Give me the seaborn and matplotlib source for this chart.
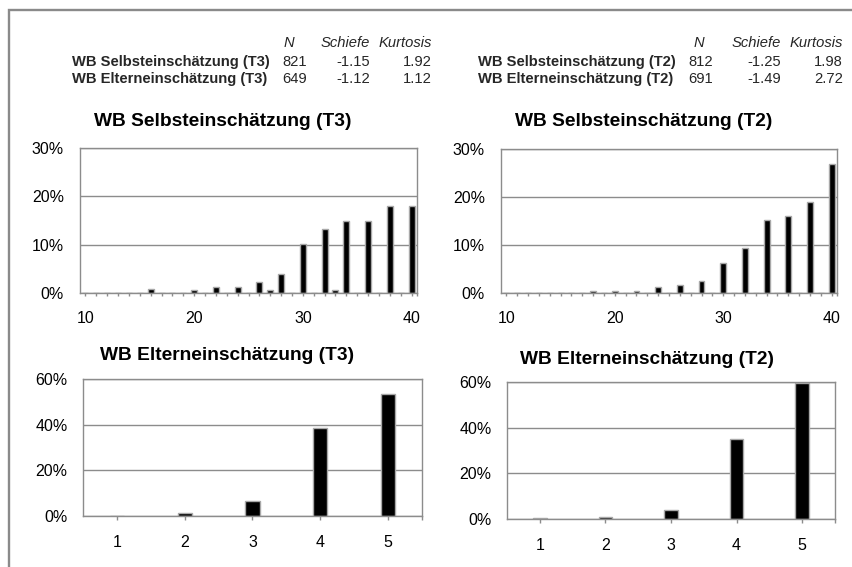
import matplotlib
matplotlib.use("Agg")
import matplotlib.pyplot as plt
from matplotlib.ticker import PercentFormatter, FixedLocator
from matplotlib.patches import Rectangle
import seaborn as sns

# ---- data -------------------------------------------------------------
selbst_scores = list(range(10, 41))
selbst_t3 = [0, 0, 0, 0, 0.1, 0, 0.9, 0, 0.1, 0,
             0.7, 0, 1.2, 0, 1.2, 0, 2.2, 0.6, 3.9, 0,
             10.2, 0, 13.3, 0.7, 14.8, 0.1, 15.0, 0.1, 18.1, 0,
             18.1]
selbst_t2 = [0, 0, 0, 0, 0, 0, 0.1, 0, 0.5, 0,
             0.4, 0, 0.4, 0, 1.3, 0, 1.7, 0.1, 2.4, 0,
             6.3, 0, 9.4, 0.1, 15.3, 0.1, 16.1, 0.1, 19.0, 0,
             26.8]

eltern_scores = [1, 2, 3, 4, 5]
eltern_t3 = [0.1, 1.4, 6.6, 38.5, 53.4]
eltern_t2 = [0.5, 1.0, 3.9, 35.0, 59.4]

selbst_ticks = [10, 20, 30, 40]
selbst_yticks = [0, 10, 20, 30]
eltern_yticks = [0, 20, 40, 60]

table_header = ["N", "Schiefe", "Kurtosis"]
rows_t3 = ["WB Selbsteinschätzung (T3)", "WB Elterneinschätzung (T3)"]
n_t3 = [821, 649]
schiefe_t3 = [-1.15, -1.12]
kurtosis_t3 = [1.92, 1.12]
rows_t2 = ["WB Selbsteinschätzung (T2)", "WB Elterneinschätzung (T2)"]
n_t2 = [812, 691]
schiefe_t2 = [-1.25, -1.49]
kurtosis_t2 = [1.98, 2.72]

titles = ["WB Selbsteinschätzung (T3)", "WB Selbsteinschätzung (T2)",
          "WB Elterneinschätzung (T3)", "WB Elterneinschätzung (T2)"]

# ---- style ------------------------------------------------------------
sns.set_theme(style="white")
plt.rcParams["font.family"] = ["Liberation Sans", "DejaVu Sans"]

W, H = 853, 567
GRID = "#8c8c8c"
EDGE = "#a8a8a8"
FRAME = "#8a8a8a"
TICK_FS = 11.5

fig = plt.figure(figsize=(W / 100, H / 100), dpi=100)
fig.patch.set_facecolor("white")


def px_axes(left, top, right, bottom):
    return fig.add_axes([left / W, 1 - bottom / H, (right - left) / W, (bottom - top) / H])


def style_axes(ax, ylim, yticks, ypad, xpad, ticklen):
    ax.set_ylim(*ylim)
    ax.set_yticks(yticks)
    ax.yaxis.set_major_formatter(PercentFormatter(decimals=0))
    ax.yaxis.grid(True, color=GRID, lw=1)
    ax.xaxis.grid(False)
    ax.set_axisbelow(True)
    for sp in ax.spines.values():
        sp.set_visible(True)
        sp.set_color(GRID)
        sp.set_linewidth(1)
    ax.tick_params(axis="y", length=0, pad=ypad, labelsize=TICK_FS, colors="black")
    ax.tick_params(axis="x", which="both", length=ticklen, width=1, color=GRID,
                   direction="out", bottom=True, pad=xpad, labelsize=TICK_FS,
                   labelcolor="black")
    ax.set_xlabel("")
    ax.set_ylabel("")


def selbst_panel(box, values):
    ax = px_axes(*box)
    sns.barplot(x=selbst_scores, y=values, native_scale=True, width=0.55,
                color="black", saturation=1, edgecolor=EDGE, linewidth=1,
                errorbar=None, ax=ax)
    ax.set_xlim(9.5, 40.5)
    ax.set_xticks(selbst_ticks)
    ax.set_xticklabels([str(t) for t in selbst_ticks])
    ax.xaxis.set_minor_locator(FixedLocator(selbst_scores + [40.5]))
    style_axes(ax, (0, 30), selbst_yticks, ypad=11.5, xpad=10.5, ticklen=2.2)
    return ax


def eltern_panel(box, values):
    ax = px_axes(*box)
    sns.barplot(x=eltern_scores, y=values, native_scale=True, width=0.21,
                color="black", saturation=1, edgecolor=EDGE, linewidth=1,
                errorbar=None, ax=ax)
    ax.set_xlim(0.5, 5.5)
    ax.set_xticks(eltern_scores)
    ax.set_xticklabels([str(t) for t in eltern_scores])
    ax.xaxis.set_minor_locator(FixedLocator([5.5]))
    style_axes(ax, (0, 60), eltern_yticks, ypad=11, xpad=11, ticklen=3)
    return ax


selbst_panel((80, 148, 417, 293), selbst_t3)
selbst_panel((501, 149, 837, 293), selbst_t2)
eltern_panel((83, 379, 422, 516), eltern_t3)
eltern_panel((507, 382, 835, 519), eltern_t2)

# ---- panel titles -------------------------------------------------------
title_pos = [(223, 122), (644, 122), (227, 355), (647, 360)]
for t, (x, y) in zip(titles, title_pos):
    fig.text(x / W, 1 - y / H, t, ha="center", va="center",
             fontsize=13.8, fontweight="bold", color="black")


# ---- summary tables -------------------------------------------------------
def stats_table(label_x, n_x, sk_x, ku_x, n_head_x, rows, ns, sks, kus):
    y_head, y_rows = 43, [62, 79]
    fs = 10.6
    fig.text(n_head_x / W, 1 - y_head / H, table_header[0], ha="center", va="center",
             fontsize=fs, style="italic")
    fig.text(sk_x / W, 1 - y_head / H, table_header[1], ha="right", va="center",
             fontsize=fs, style="italic")
    fig.text(ku_x / W, 1 - y_head / H, table_header[2], ha="right", va="center",
             fontsize=fs, style="italic")
    for row, n, sk, ku, y in zip(rows, ns, sks, kus, y_rows):
        fy = 1 - y / H
        fig.text(label_x / W, fy, row, ha="left", va="center", fontsize=fs, fontweight="bold")
        fig.text(n_x / W, fy, f"{n}", ha="right", va="center", fontsize=fs)
        fig.text(sk_x / W, fy, f"{sk:.2f}", ha="right", va="center", fontsize=fs)
        fig.text(ku_x / W, fy, f"{ku:.2f}", ha="right", va="center", fontsize=fs)


stats_table(72, 307, 370, 432, 289, rows_t3, n_t3, schiefe_t3, kurtosis_t3)
stats_table(478, 713, 781, 843, 699, rows_t2, n_t2, schiefe_t2, kurtosis_t2)

# ---- outer frame (top and left edges) --------------------------------------
fig.add_artist(Rectangle((9 / W, -0.1), 1.2, (1 - 10 / H) + 0.1,
                         transform=fig.transFigure, fill=False,
                         edgecolor=FRAME, linewidth=1.7))

fig.savefig("out.png", dpi=100, facecolor="white")
